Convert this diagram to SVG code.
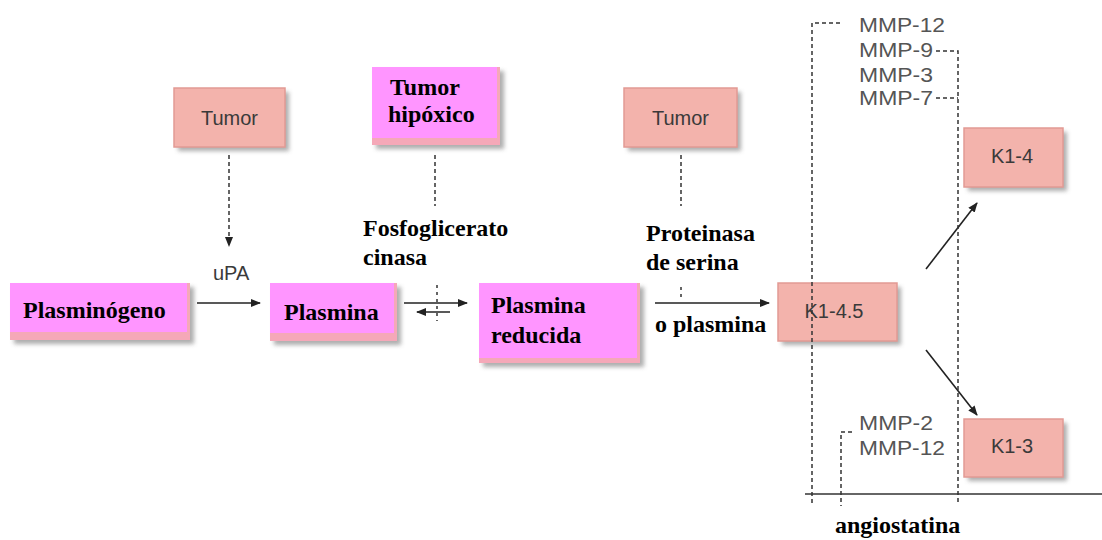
<svg xmlns="http://www.w3.org/2000/svg" width="1102" height="540" viewBox="0 0 1102 540">
<defs>
<filter id="sh" x="-10%" y="-10%" width="130%" height="140%">
<feGaussianBlur stdDeviation="2"/>
</filter>
<marker id="ah" markerWidth="10" markerHeight="8" refX="9" refY="4" orient="auto" markerUnits="userSpaceOnUse">
<path d="M0,0 L10,4 L0,8 Z" fill="#222"/>
</marker>
<style>
.shadow{fill:#9a9a9a;filter:url(#sh);opacity:0.8}
.salmon{fill:#F3B3AC;stroke:#E29A94;stroke-width:1.5}
.pinkbase{fill:#F5A8B8}
.pink{fill:#FF95FF}
.sans{font-family:"Liberation Sans",Arial,sans-serif;font-size:20px;fill:#3a3a3a}
.mmp{font-family:"Liberation Sans",Arial,sans-serif;font-size:20px;fill:#555}
.bold{font-family:"Liberation Serif","Times New Roman",serif;font-size:24px;font-weight:bold;fill:#000}
.ln{stroke:#222;stroke-width:1.6;fill:none}
.dash{stroke:#333;stroke-width:1.5;fill:none;stroke-dasharray:4,3}
</style>
</defs>
<rect width="1102" height="540" fill="#fff"/>

<g id="tumor1">
<rect class="shadow" x="178" y="92" width="111" height="59"/>
<rect class="salmon" x="174" y="88" width="111" height="59"/>
<text class="sans" x="229.5" y="125" text-anchor="middle">Tumor</text>
</g>

<g id="tumor-hipoxico">
<rect class="shadow" x="376" y="71" width="128" height="78"/>
<rect class="pinkbase" x="372" y="67" width="128" height="78"/>
<rect class="pink" x="372" y="67" width="125" height="71"/>
<text class="bold" x="390" y="95">Tumor</text>
<text class="bold" x="388" y="122">hipóxico</text>
</g>

<g id="tumor3">
<rect class="shadow" x="628" y="92" width="113" height="59"/>
<rect class="salmon" x="624" y="88" width="113" height="59"/>
<text class="sans" x="680.5" y="125" text-anchor="middle">Tumor</text>
</g>

<g id="plasminogeno">
<rect class="shadow" x="14" y="287" width="180" height="57"/>
<rect class="pinkbase" x="10" y="283" width="180" height="57"/>
<rect class="pink" x="10" y="283" width="177" height="49"/>
<text class="bold" x="23" y="318">Plasminógeno</text>
</g>

<g id="plasmina">
<rect class="shadow" x="274" y="287" width="127" height="58"/>
<rect class="pinkbase" x="270" y="283" width="127" height="58"/>
<rect class="pink" x="270" y="283" width="124" height="50"/>
<text class="bold" x="284" y="320">Plasmina</text>
</g>

<g id="plasmina-reducida">
<rect class="shadow" x="483" y="287" width="161" height="80"/>
<rect class="pinkbase" x="479" y="283" width="161" height="80"/>
<rect class="pink" x="479" y="283" width="158" height="75"/>
<text class="bold" x="491" y="313">Plasmina</text>
<text class="bold" x="491" y="343">reducida</text>
</g>

<g id="k1-4-5">
<rect class="shadow" x="782" y="287" width="119" height="58"/>
<rect class="salmon" x="778" y="283" width="119" height="58"/>
<text class="sans" x="834" y="318" text-anchor="middle">K1-4.5</text>
</g>

<g id="k1-4">
<rect class="shadow" x="968" y="132" width="99" height="59"/>
<rect class="salmon" x="964" y="128" width="99" height="59"/>
<text class="sans" x="1012" y="163" text-anchor="middle">K1-4</text>
</g>

<g id="k1-3">
<rect class="shadow" x="968" y="423" width="99" height="58"/>
<rect class="salmon" x="964" y="419" width="99" height="58"/>
<text class="sans" x="1012" y="453" text-anchor="middle">K1-3</text>
</g>

<g id="connectors">
<line class="dash" x1="229" y1="155" x2="229" y2="246" marker-end="url(#ah)"/>
<line class="dash" x1="435" y1="155" x2="435" y2="206"/>
<line class="dash" x1="681" y1="155" x2="681" y2="206"/>
<line class="ln" x1="197" y1="303" x2="260" y2="303" marker-end="url(#ah)"/>
<line class="ln" x1="404" y1="303" x2="467" y2="303" marker-end="url(#ah)"/>
<line class="ln" x1="450" y1="312" x2="417" y2="312" marker-end="url(#ah)"/>
<line class="dash" x1="437" y1="285" x2="437" y2="321" style="stroke-dasharray:3,4"/>
<line class="ln" x1="655" y1="303" x2="769" y2="303" marker-end="url(#ah)"/>
<line class="dash" x1="681" y1="287" x2="681" y2="300" style="stroke-dasharray:3,4"/>
<line class="ln" x1="926" y1="269" x2="977" y2="203" marker-end="url(#ah)"/>
<line class="ln" x1="926" y1="350" x2="977" y2="415" marker-end="url(#ah)"/>
<polyline class="dash" points="840,23 812,23 812,505"/>
<polyline class="dash" points="936,51 958,51 958,505"/>
<line class="dash" x1="936" y1="98" x2="958" y2="98"/>
<polyline class="dash" points="852,432 841,432 841,506"/>
<line x1="805" y1="494" x2="1102" y2="494" stroke="#333" stroke-width="1.6"/>
</g>

<g id="labels">
<text class="sans" x="213" y="280">uPA</text>
<text class="bold" x="363" y="236">Fosfoglicerato</text>
<text class="bold" x="363" y="265">cinasa</text>
<text class="bold" x="646" y="241">Proteinasa</text>
<text class="bold" x="646" y="270">de serina</text>
<text class="bold" x="655" y="332">o plasmina</text>
<text class="mmp" x="859" y="32" textLength="86" lengthAdjust="spacingAndGlyphs">MMP-12</text>
<text class="mmp" x="859" y="57" textLength="74" lengthAdjust="spacingAndGlyphs">MMP-9</text>
<text class="mmp" x="859" y="82" textLength="74" lengthAdjust="spacingAndGlyphs">MMP-3</text>
<text class="mmp" x="859" y="105" textLength="74" lengthAdjust="spacingAndGlyphs">MMP-7</text>
<text class="mmp" x="859" y="430" textLength="74" lengthAdjust="spacingAndGlyphs">MMP-2</text>
<text class="mmp" x="859" y="455" textLength="86" lengthAdjust="spacingAndGlyphs">MMP-12</text>
<text class="bold" x="835" y="533">angiostatina</text>
</g>
</svg>
